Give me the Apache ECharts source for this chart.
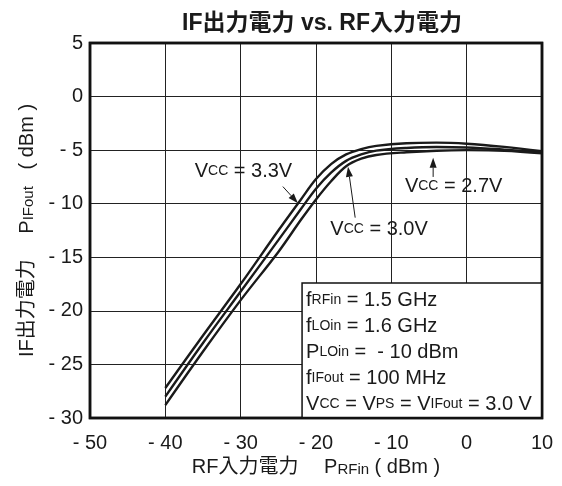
<!DOCTYPE html>
<html>
<head>
<meta charset="utf-8">
<script src="https://cdn.jsdelivr.net/npm/echarts@6/dist/echarts.min.js"></script>
<style>
  html, body { margin: 0; padding: 0; background: #fff; }
  #chart { width: 562px; height: 486px; }
</style>
</head>
<body>
<div id="chart"></div>
<script>
// RF input power (dBm) vs IF output power (dBm) for three supply voltages
const vcc33 = [[-40,-27.2],[-35,-22.3],[-30,-17.5],[-25,-12.5],[-22,-9.6],[-20,-7.7],[-18,-6.3],[-16,-5.4],[-14,-4.9],[-12,-4.6],[-8,-4.35],[-4,-4.3],[0,-4.4],[5,-4.7],[10,-5.1]];
const vcc30 = [[-40,-28.0],[-35,-23.0],[-30,-18.2],[-25,-13.4],[-22,-10.5],[-20,-8.6],[-18,-7.1],[-16,-6.0],[-14,-5.4],[-12,-5.05],[-8,-4.8],[-4,-4.7],[0,-4.75],[5,-4.95],[10,-5.2]];
const vcc27 = [[-40,-28.8],[-35,-23.8],[-30,-19.0],[-25,-14.5],[-22,-11.5],[-20,-9.6],[-18,-7.9],[-16,-6.5],[-14,-5.8],[-12,-5.45],[-8,-5.2],[-4,-5.05],[0,-5.0],[5,-5.05],[10,-5.3]];

const xMin = -50, xMax = 10, xStep = 10;
const yMin = -30, yMax = 5, yStep = 5;

const FONT = '"Liberation Sans", Arial, "Noto Sans CJK JP", sans-serif';
const INK = '#1a1a1a';

const tickFmt = v => (v < 0 ? '- ' + Math.abs(v) : String(v));

const chart = echarts.init(document.getElementById('chart'), null, { renderer: 'canvas' });

function curve(name, data) {
  return {
    name, type: 'line', data, smooth: 0.35, symbol: 'none',
    lineStyle: { color: INK, width: 2.4 },
    z: 3
  };
}

const main = { fontSize: 20, fontFamily: FONT, color: INK };
const sub = { fontSize: 15, fontFamily: FONT, color: INK, verticalAlign: 'bottom', padding: [0, 0, 1, 0] };

chart.setOption({
  animation: false,
  textStyle: { fontFamily: FONT },
  title: {
    text: 'IF出力電力 vs. RF入力電力',
    left: 317, top: 7, textAlign: 'center',
    textStyle: { fontSize: 23, fontWeight: 'bold', color: INK, fontFamily: FONT }
  },
  grid: {
    left: 90, right: 20, top: 43, bottom: 68,
    outerBoundsMode: 'none',
    show: true, borderColor: '#111', borderWidth: 2.5, backgroundColor: 'transparent'
  },
  xAxis: {
    type: 'value', min: xMin, max: xMax, interval: xStep,
    axisLine: { show: false }, axisTick: { show: false },
    splitLine: { show: true, lineStyle: { color: '#222', width: 1 } },
    axisLabel: { formatter: tickFmt, fontSize: 20, color: INK, margin: 15, fontFamily: FONT },
    name: '{m|RF入力電力　 P}{s|RFin}{m| ( dBm )}',
    nameLocation: 'middle', nameGap: 39,
    nameTextStyle: { rich: { m: main, s: sub } }
  },
  yAxis: {
    type: 'value', min: yMin, max: yMax, interval: yStep,
    axisLine: { show: false }, axisTick: { show: false },
    splitLine: { show: true, lineStyle: { color: '#222', width: 1 } },
    axisLabel: { formatter: tickFmt, fontSize: 20, color: INK, margin: 7, fontFamily: FONT },
    name: '{m|IF出力電力　 P}{s|IFout}{m|   ( dBm )}',
    nameLocation: 'middle', nameGap: 52, nameRotate: 90,
    nameTextStyle: { rich: { m: main, s: sub } }
  },
  series: [curve('3.3V', vcc33), curve('3.0V', vcc30), curve('2.7V', vcc27)]
});

// Annotations placed in data coordinates
const px = (x, y) => chart.convertToPixel({ gridIndex: 0 }, [x, y]);

function vccLabel(x, y, value) {
  const p = px(x, y);
  return {
    type: 'text', x: p[0], y: p[1], z: 10,
    style: {
      text: '{m|V}{s|CC}{m| = ' + value + '}',
      textVerticalAlign: 'middle',
      rich: { m: { fontSize: 20, fontFamily: FONT, fill: INK }, s: { fontSize: 14, fontFamily: FONT, fill: INK } }
    }
  };
}

function arrow(x1, y1, x2, y2) {
  const a = px(x1, y1), b = px(x2, y2);
  const ang = Math.atan2(b[1] - a[1], b[0] - a[0]);
  const L = 10, W = 3.5;
  const bx = b[0] - L * Math.cos(ang), by = b[1] - L * Math.sin(ang);
  const nx = -Math.sin(ang) * W, ny = Math.cos(ang) * W;
  return [
    { type: 'line', z: 10, shape: { x1: a[0], y1: a[1], x2: bx, y2: by }, style: { stroke: INK, lineWidth: 1 } },
    { type: 'polygon', z: 10, shape: { points: [[b[0], b[1]], [bx + nx, by + ny], [bx - nx, by - ny]] }, style: { fill: INK } }
  ];
}

// Condition box anchored to the lower-right corner of the plot
const boxTL = px(-21.85, -17.4);
const boxBR = px(xMax, yMin);
const lines = [
  '{i|f}{s|RFin}{i| = 1.5 GHz}',
  '{i|f}{s|LOin}{i| = 1.6 GHz}',
  '{i|P}{s|LOin}{i| =  - 10 dBm}',
  '{i|f}{s|IFout}{i| = 100 MHz}',
  '{i|V}{s|CC}{i| = V}{s|PS}{i| = V}{s|IFout}{i| = 3.0 V}'
];

const elements = [
  vccLabel(-36.1, -7.0, '3.3V'),
  ...arrow(-24.4, -8.4, -22.4, -9.95),
  vccLabel(-18.1, -12.4, '3.0V'),
  ...arrow(-14.8, -11.3, -15.75, -6.55),
  vccLabel(-8.2, -8.35, '2.7V'),
  ...arrow(-4.45, -7.5, -4.45, -5.7),
  {
    type: 'rect', z: 8,
    shape: { x: boxTL[0], y: boxTL[1], width: boxBR[0] - boxTL[0], height: boxBR[1] - boxTL[1] },
    style: { fill: '#fff', stroke: '#111', lineWidth: 1.5 }
  },
  {
    type: 'text', z: 9, x: boxTL[0] + 4, y: boxTL[1] + 4,
    style: {
      text: lines.join('\n'),
      rich: {
        i: { fontSize: 20, fontFamily: FONT, fill: INK, lineHeight: 26 },
        s: { fontSize: 14, fontFamily: FONT, fill: INK, lineHeight: 26 }
      }
    }
  },
  // plot frame redrawn above the box
  {
    type: 'rect', z: 11,
    shape: { x: px(xMin, yMax)[0], y: px(xMin, yMax)[1], width: boxBR[0] - px(xMin, yMax)[0], height: boxBR[1] - px(xMin, yMax)[1] },
    style: { fill: 'none', stroke: '#111', lineWidth: 2.5 }
  }
];

chart.setOption({ graphic: { elements } });
</script>
</body>
</html>
